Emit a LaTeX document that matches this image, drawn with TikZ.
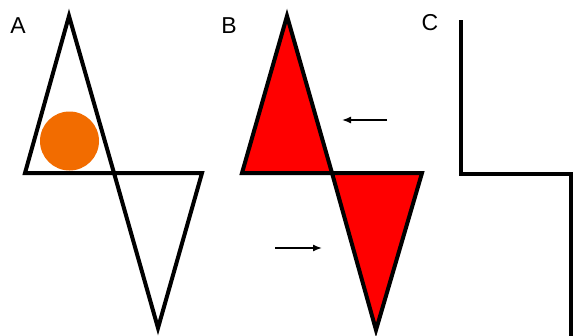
\documentclass[tikz,border=0pt]{standalone}
\usepackage{fontspec}
\setmainfont{Liberation Sans}
\usetikzlibrary{arrows.meta}
\definecolor{ballorange}{RGB}{242,108,0}
\definecolor{wingred}{RGB}{255,0,0}
\begin{document}
\begin{tikzpicture}[x=1pt, y=-1pt,
    panellabel/.style={font=\fontsize{23}{23}\selectfont, inner sep=0pt},
    outline/.style={line width=4pt, line join=miter},
    push/.style={line width=1.4pt, -{Latex[length=9pt, width=7pt]}}]
  \useasboundingbox (0,0) rectangle (573,335);
  % panel A
  \node[panellabel] (labA) at (18,26) {A};
  \fill[ballorange] (69.5,141) circle [radius=29.5];
  \draw[outline] (69,16) -- (25,173) -- (114,173) -- cycle;
  \draw[outline] (114,173) -- (202,173) -- (158,328) -- cycle;
  % panel B
  \node[panellabel] (labB) at (229,26) {B};
  \draw[outline, fill=wingred] (287,16) -- (242,173) -- (332,173) -- cycle;
  \draw[outline, fill=wingred] (332,173) -- (422,173) -- (376,330) -- cycle;
  \coordinate (upR) at (387,120);
  \coordinate (upL) at (342,120);
  \coordinate (loL) at (275,248);
  \coordinate (loR) at (322,248);
  \draw[push] (upR) -- (upL);
  \draw[push] (loL) -- (loR);
  % panel C
  \node[panellabel] (labC) at (430,23) {C};
  \draw[outline] (461,20) -- (461,174) -- (571,174) -- (571,340);
\end{tikzpicture}
\end{document}
